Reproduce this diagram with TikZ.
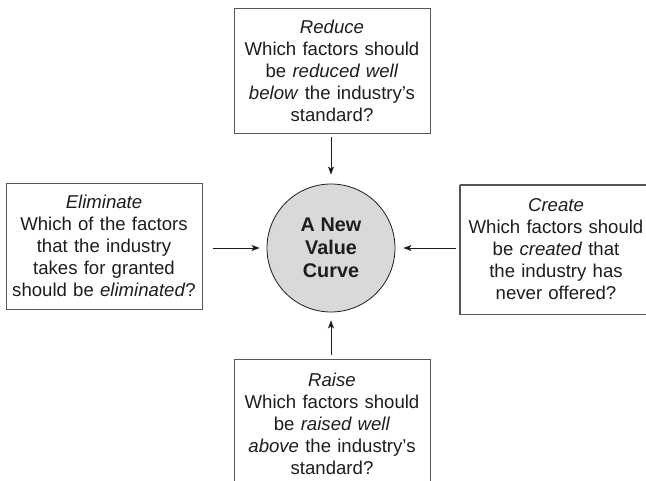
\documentclass[tikz,border=0pt]{standalone}
\usepackage{fontspec}
\setmainfont{Liberation Sans}
\usetikzlibrary{arrows.meta}
\definecolor{txt}{HTML}{1E1C1D}
\definecolor{edge}{HTML}{555555}
\definecolor{circfill}{HTML}{D9D9D9}
\tikzset{
  qbox/.style={draw=edge, line width=0.9pt, minimum width=196pt, text width=196pt, align=center,
    inner sep=0pt, text=txt, font=\fontsize{18.6}{22}\selectfont},
  hub/.style={circle, draw=txt, line width=0.8pt, fill=circfill, minimum size=128pt, inner sep=0pt,
    align=center, text=txt, font=\fontsize{19.8}{23}\selectfont\bfseries},
  arr/.style={draw=txt, line width=0.9pt, -{Stealth[length=8pt,width=6pt,inset=2pt]}}
}
\begin{document}
\begin{tikzpicture}[x=1pt,y=-1pt]
\useasboundingbox (0,0) rectangle (646,481);
\clip (0,0) rectangle (646,481);
\node[qbox, minimum height=125pt] (t) at (332,70.5)
  {\textit{Reduce}\\Which factors should\\be \textit{reduced well}\\\textit{below} the industry’s\\standard?};
\node[qbox, minimum height=126pt] (l) at (104,246)
  {\textit{Eliminate}\\Which of the factors\\that the industry\\takes for granted\\should be \textit{eliminated}?};
\node[qbox, minimum height=129pt] (r) at (558,249.5) {};
\node[text width=196pt, align=center, inner sep=0pt, text=txt, font=\fontsize{18.6}{22}\selectfont] (rt) at (556,249.5)
  {\textit{Create}\\Which factors should\\be \textit{created} that\\the industry has\\never offered?};
\draw[edge, line width=0.9pt] (r.north west) -- ++(220,0) (r.north west) -- (r.south west) -- ++(220,0);
\node[qbox, minimum height=130pt] (b) at (332,424)
  {\textit{Raise}\\Which factors should\\be \textit{raised well}\\\textit{above} the industry’s\\standard?};
\node[hub] (c) at (331,248) {A New\\Value\\Curve};
\draw[arr, shorten <=4pt, shorten >=9pt] (t.south -| c) -- (c.north);
\draw[arr, shorten <=11pt, shorten >=7pt] (l.east |- c) -- (c.west);
\draw[arr, shorten <=4pt, shorten >=8pt] (r.west |- c) -- (c.east);
\draw[arr, shorten <=4pt, shorten >=8pt] (b.north -| c) -- (c.south);
\end{tikzpicture}
\end{document}
